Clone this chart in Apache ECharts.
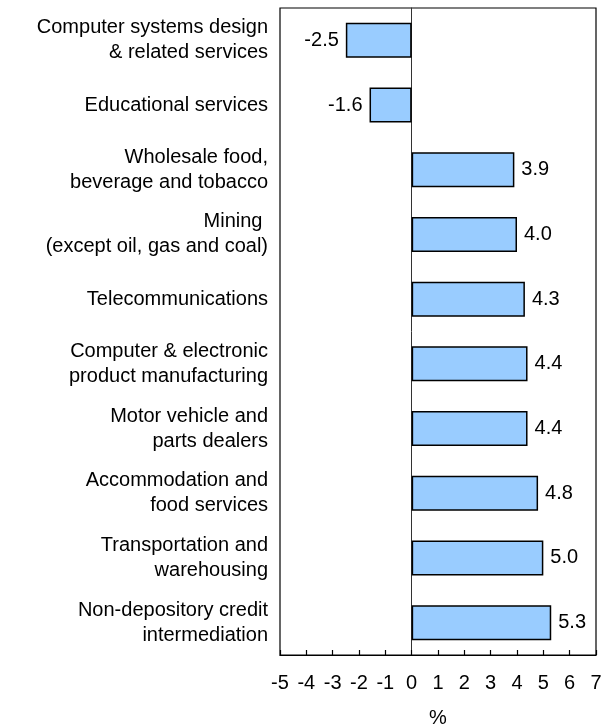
<!DOCTYPE html>
<html>
<head>
<meta charset="utf-8">
<script src="https://cdn.jsdelivr.net/npm/echarts@6/dist/echarts.min.js"></script>
<style>
  html, body { margin: 0; padding: 0; background: #fff; }
  #chart { width: 609px; height: 727px; }
</style>
</head>
<body>
<div id="chart"></div>
<script>
// Industries, top to bottom
var categories = [
  'Computer systems design\n& related services',
  'Educational services',
  'Wholesale food,\nbeverage and tobacco',
  'Mining \n(except oil, gas and coal)',
  'Telecommunications',
  'Computer & electronic\nproduct manufacturing',
  'Motor vehicle and\nparts dealers',
  'Accommodation and\nfood services',
  'Transportation and\nwarehousing',
  'Non-depository credit\nintermediation'
];
// Percentage change
var values = [-2.5, -1.6, 3.9, 4.0, 4.3, 4.4, 4.4, 4.8, 5.0, 5.3];
// Value axis range
var xMin = -5, xMax = 7, xStep = 1;
var axisName = '%';

var FONT = '"Liberation Sans", Arial, sans-serif';
var chart = echarts.init(document.getElementById('chart'), null, { renderer: 'canvas' });

chart.setOption({
  animation: false,
  backgroundColor: '#ffffff',
  grid: {
    left: 280, right: 13, top: 8, bottom: 72,
    containLabel: false,
    outerBoundsMode: 'none',
    show: true, borderColor: '#000', borderWidth: 1.2, backgroundColor: 'transparent'
  },
  xAxis: {
    type: 'value',
    min: xMin, max: xMax, interval: xStep,
    splitLine: { show: false },
    axisLine: { show: true, lineStyle: { color: '#000', width: 1.2 } },
    axisTick: { show: true, inside: true, length: 5, lineStyle: { color: '#000', width: 1.2 } },
    axisLabel: { color: '#000', fontFamily: FONT, fontSize: 20, margin: 18 },
    name: axisName,
    nameLocation: 'middle',
    nameGap: 53,
    nameTextStyle: { color: '#000', fontFamily: FONT, fontSize: 20 }
  },
  yAxis: {
    type: 'category',
    data: categories,
    inverse: true,
    axisTick: { show: false },
    axisLine: { show: true, onZero: true, lineStyle: { color: '#333', width: 1 } },
    axisLabel: {
      color: '#000', fontFamily: FONT, fontSize: 20, lineHeight: 25,
      align: 'right', margin: 12
    }
  },
  series: [{
    type: 'bar',
    data: values.map(function (v) {
      return {
        value: v,
        label: { position: v < 0 ? 'left' : 'right' }
      };
    }),
    barWidth: 35,
    itemStyle: { color: '#99CCFF', borderColor: '#000', borderWidth: 1.5 },
    label: {
      show: true,
      distance: 7,
      color: '#000',
      fontFamily: FONT,
      fontSize: 20,
      formatter: function (p) { return p.value.toFixed(1); }
    },
    z: 1
  }]
});
</script>
</body>
</html>
